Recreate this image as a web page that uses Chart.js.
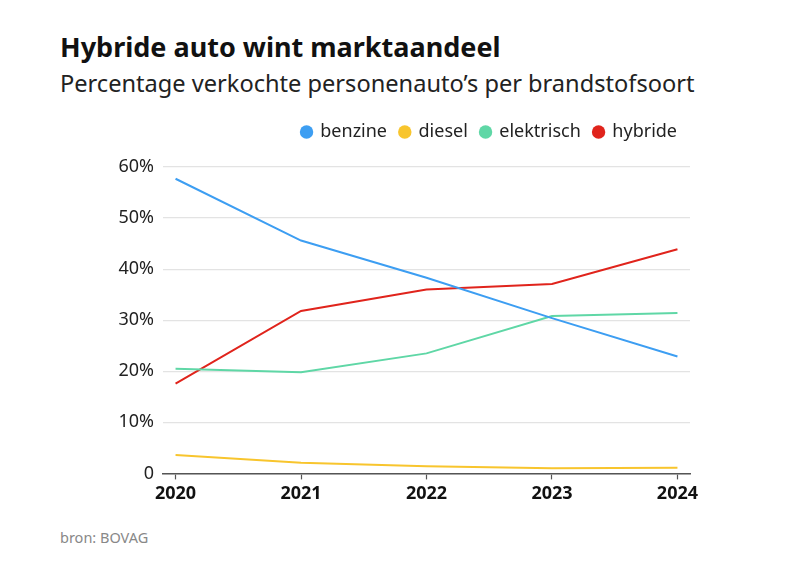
<!DOCTYPE html>
<html><head><meta charset="utf-8">
<script src="https://cdn.jsdelivr.net/npm/chart.js@4.4.1/dist/chart.umd.min.js"></script>
<style>
html,body{margin:0;padding:0;background:#fff;width:785px;height:565px;overflow:hidden;font-family:"Noto Sans",sans-serif;}
#title{position:absolute;left:60px;top:28px;font-size:27px;font-weight:700;color:#111;white-space:nowrap;}
#sub{position:absolute;left:60px;top:67px;font-size:23.6px;color:#222;white-space:nowrap;}
#src{position:absolute;left:60px;top:527px;font-size:14.5px;color:#888;}
#wrap{position:absolute;left:0;top:110px;width:785px;height:399px;}
</style></head>
<body>
<div id="title">Hybride auto wint marktaandeel</div>
<div id="sub">Percentage verkochte personenauto’s per brandstofsoort</div>
<div id="src">bron: BOVAG</div>
<div id="wrap"><canvas id="c"></canvas></div>
<script>
const years = [2020, 2021, 2022, 2023, 2024];
const benzine = [57.7, 45.6, 38.3, 30.4, 22.9];
const diesel = [3.6, 2.1, 1.4, 1.0, 1.1];
const elektrisch = [20.5, 19.8, 23.5, 30.8, 31.4];
const hybride = [17.6, 31.8, 36.0, 37.1, 43.9];
const yTicks = [0, 10, 20, 30, 40, 50, 60];

const series = [
  {label:'benzine', data:benzine, color:'#3d9ef2'},
  {label:'diesel', data:diesel, color:'#f8c52d'},
  {label:'elektrisch', data:elektrisch, color:'#5fd7a6'},
  {label:'hybride', data:hybride, color:'#e0241c'}
];
const FONT = '"Noto Sans", sans-serif';

const legendPad = {
  id:'legendPad',
  beforeInit(chart){
    const fit = chart.legend.fit;
    chart.legend.fit = function(){ fit.bind(chart.legend)(); this.height += 16; };
  }
};

new Chart(document.getElementById('c'), {
  type:'line',
  data:{
    datasets: series.map(s => ({
      label:s.label,
      data: years.map((y,i)=>({x:y, y:s.data[i]})),
      borderColor:s.color, backgroundColor:s.color,
      borderWidth:2, pointRadius:0, tension:0
    }))
  },
  options:{
    responsive:true, maintainAspectRatio:false, animation:false,
    layout:{padding:{left:60, right:95, top:0, bottom:0}},
    plugins:{
      tooltip:{enabled:false},
      legend:{
        position:'top', align:'end',
        labels:{
          usePointStyle:true, pointStyle:'circle', boxWidth:9.5, boxHeight:9.5,
          padding:13, color:'#222', font:{family:FONT, size:18},
          generateLabels(chart){
            return chart.data.datasets.map((d,i)=>({
              text:d.label, fillStyle:d.borderColor, strokeStyle:d.borderColor,
              lineWidth:0, pointStyle:'circle', datasetIndex:i, hidden:false, fontColor:'#222'
            }));
          }
        }
      }
    },
    scales:{
      x:{
        type:'linear', min:2019.9, max:2024.1,
        afterBuildTicks(scale){ scale.ticks = years.map(v=>({value:v})); },
        grid:{drawOnChartArea:false, drawTicks:true, tickLength:6, color:'#555', tickWidth:1.2},
        border:{display:true, color:'#555', width:1.5},
        ticks:{color:'#111', padding:4, font:{family:FONT, size:18, weight:'bold'}, callback:v=>String(v), maxRotation:0}
      },
      y:{
        min:0, max:60,
        afterBuildTicks(scale){ scale.ticks = yTicks.map(v=>({value:v})); },
        afterFit(scale){ scale.width = 103; },
        grid:{color:'#e3e3e3', lineWidth:1.2, drawTicks:false},
        border:{display:false},
        ticks:{color:'#222', padding:9, font:{family:FONT, size:18}, callback:v=> v===0 ? '0' : v+'%'}
      }
    }
  },
  plugins:[legendPad]
});
</script>
</body></html>
